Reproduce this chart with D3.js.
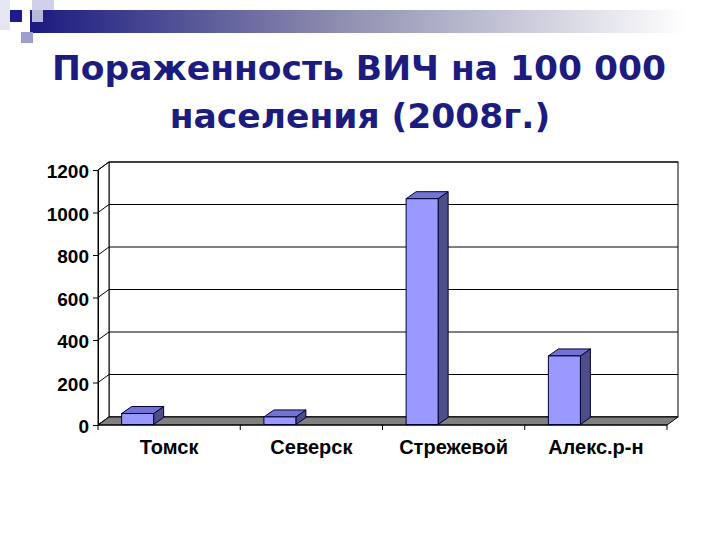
<!DOCTYPE html>
<html>
<head>
<meta charset="utf-8">
<script src="https://cdn.jsdelivr.net/npm/d3@7"></script>
<style>
  body { margin: 0; background: #fff; }
  svg { display: block; }
</style>
</head>
<body>
<div id="vis-svg"></div>
<script>
var w = 720;
var h = 540;

// data
var categories = ["Томск", "Северск", "Стрежевой", "Алекс.р-н"];
var values = [54, 38, 1065, 325];
var yTicks = [0, 200, 400, 600, 800, 1000, 1200];
var titleLines = ["Пораженность ВИЧ на 100 000", "населения (2008г.)"];

var canvas = d3.select("#vis-svg").append("svg")
    .attr("width", w)
    .attr("height", h);

// slide decoration top-left
var grad = canvas.append("defs").append("linearGradient")
    .attr("id", "topbar")
    .attr("x1", "0%").attr("x2", "100%");
grad.append("stop").attr("offset", "0%").attr("stop-color", "#1a1a80");
grad.append("stop").attr("offset", "45%").attr("stop-color", "#8e8eb0");
grad.append("stop").attr("offset", "95%").attr("stop-color", "#ffffff");

canvas.append("rect").attr("x", 0).attr("y", 0).attr("width", 10).attr("height", 30).attr("fill", "#e6e6f2");
canvas.append("rect").attr("x", 32).attr("y", 0).attr("width", 22).attr("height", 22).attr("fill", "#d0d0ea");
canvas.append("rect").attr("x", 30).attr("y", 10).attr("width", 690).attr("height", 23).attr("fill", "url(#topbar)");
canvas.append("rect").attr("x", 32).attr("y", 10).attr("width", 11).attr("height", 12).attr("fill", "#b8b8dc");
canvas.append("rect").attr("x", 10).attr("y", 10).attr("width", 12).attr("height", 12).attr("fill", "#1a1a8c");
canvas.append("rect").attr("x", 21).attr("y", 32).attr("width", 12).attr("height", 11).attr("fill", "#9d9dcf");

// title, sized so each line fills the width it has in the slide
var titleY = [80, 128];
var titleX = [[52, 666], [170, 550]];
canvas.selectAll(".title")
    .data(titleLines)
    .enter()
    .append("text")
    .attr("class", "title")
    .attr("x", (d, i) => (titleX[i][0] + titleX[i][1]) / 2)
    .attr("y", (d, i) => titleY[i])
    .attr("text-anchor", "middle")
    .style("font-family", "'Comic Sans MS', 'DejaVu Sans', sans-serif")
    .style("font-weight", "bold")
    .style("font-size", "40px")
    .attr("fill", "#1c1c80")
    .text(d => d)
    .each(function(d, i) {
        var len = this.getComputedTextLength();
        var want = titleX[i][1] - titleX[i][0];
        d3.select(this).style("font-size", (40 * want / len).toFixed(1) + "px");
    });

// 3d chart geometry
var left = 98, right = 667, bottom = 425;
var dx = 11, dy = -8;

var x = d3.scaleBand()
    .domain(categories)
    .range([left, right]);

var y = d3.scaleLinear()
    .domain([0, 1200])
    .range([bottom, 170]);

var chart = canvas.append("g");

// back wall
chart.append("rect")
    .attr("x", left + dx)
    .attr("y", y(1200) + dy)
    .attr("width", right - left)
    .attr("height", y(0) - y(1200))
    .attr("fill", "#fff")
    .attr("stroke", "#000")
    .attr("stroke-width", 1);

// side wall
chart.append("path")
    .attr("d", "M" + left + "," + y(1200) + "L" + (left + dx) + "," + (y(1200) + dy) +
               "L" + (left + dx) + "," + (y(0) + dy) + "L" + left + "," + y(0) + "Z")
    .attr("fill", "#fff")
    .attr("stroke", "#000");

// gridlines on back and side wall
yTicks.forEach(function(t) {
    chart.append("line")
        .attr("x1", left + dx).attr("x2", right + dx)
        .attr("y1", y(t) + dy).attr("y2", y(t) + dy)
        .attr("stroke", "#000");
    chart.append("line")
        .attr("x1", left).attr("x2", left + dx)
        .attr("y1", y(t)).attr("y2", y(t) + dy)
        .attr("stroke", "#000");
});

// floor
chart.append("path")
    .attr("d", "M" + left + "," + bottom + "L" + (left + dx) + "," + (bottom + dy) +
               "L" + (right + dx) + "," + (bottom + dy) + "L" + right + "," + bottom + "Z")
    .attr("fill", "#808080")
    .attr("stroke", "#000");

// y axis on front plane
var yAxis = d3.axisLeft(y)
    .tickValues(yTicks)
    .tickSize(5)
    .tickPadding(4)
    .tickFormat(d3.format("d"));

var ya = chart.append("g")
    .attr("transform", "translate(" + left + ",0)")
    .call(yAxis);
ya.select(".domain").attr("stroke", "#000");
ya.selectAll("text")
    .style("font-family", "'Liberation Sans', Arial, sans-serif")
    .style("font-size", "19px")
    .style("font-weight", "bold")
    .attr("fill", "#000")
    .attr("dy", "0.42em");

// x axis ticks between categories
var xa = chart.append("g");
xa.append("line")
    .attr("x1", left).attr("x2", right)
    .attr("y1", bottom).attr("y2", bottom)
    .attr("stroke", "#000");
xa.selectAll(".xtick")
    .data(categories)
    .enter()
    .append("line")
    .attr("class", "xtick")
    .attr("x1", d => x(d) + x.bandwidth()).attr("x2", d => x(d) + x.bandwidth())
    .attr("y1", bottom).attr("y2", bottom + 5)
    .attr("stroke", "#000");
xa.append("line")
    .attr("x1", left).attr("x2", left)
    .attr("y1", bottom).attr("y2", bottom + 5)
    .attr("stroke", "#000");

xa.selectAll(".xlabel")
    .data(categories)
    .enter()
    .append("text")
    .attr("class", "xlabel")
    .attr("x", d => x(d) + x.bandwidth() / 2)
    .attr("y", 454)
    .attr("text-anchor", "middle")
    .style("font-family", "'Liberation Sans', Arial, sans-serif")
    .style("font-size", "20px")
    .style("font-weight", "bold")
    .text(d => d);

// 3d bars, drawn left of the band centre as in the slide
var bw = 32, bdx = 10, bdy = -7, shift = 31;
var bars = chart.selectAll(".bar")
    .data(categories.map((c, i) => ({name: c, value: values[i]})))
    .enter()
    .append("g")
    .attr("class", "bar");

function bx(d) { return x(d.name) + x.bandwidth() / 2 - shift - bw / 2 - 0.5; }

// side face
bars.append("path")
    .attr("d", function(d) {
        var x0 = bx(d) + bw, yt = y(d.value);
        return "M" + x0 + "," + (bottom - 0.5) + "L" + (x0 + bdx) + "," + (bottom - 0.5 + bdy) +
               "L" + (x0 + bdx) + "," + (yt + bdy) + "L" + x0 + "," + yt + "Z";
    })
    .attr("fill", "#4d4d88")
    .attr("stroke", "#000033")
    .attr("stroke-width", 1);

// top face
bars.append("path")
    .attr("d", function(d) {
        var x0 = bx(d), yt = y(d.value);
        return "M" + x0 + "," + yt + "L" + (x0 + bdx) + "," + (yt + bdy) +
               "L" + (x0 + bw + bdx) + "," + (yt + bdy) + "L" + (x0 + bw) + "," + yt + "Z";
    })
    .attr("fill", "#7373d6")
    .attr("stroke", "#000033")
    .attr("stroke-width", 1);

// front face
bars.append("rect")
    .attr("x", d => bx(d))
    .attr("y", d => y(d.value))
    .attr("width", bw)
    .attr("height", d => bottom - 0.5 - y(d.value))
    .attr("fill", "#9999ff")
    .attr("stroke", "#000033")
    .attr("stroke-width", 1);
</script>
</body>
</html>
